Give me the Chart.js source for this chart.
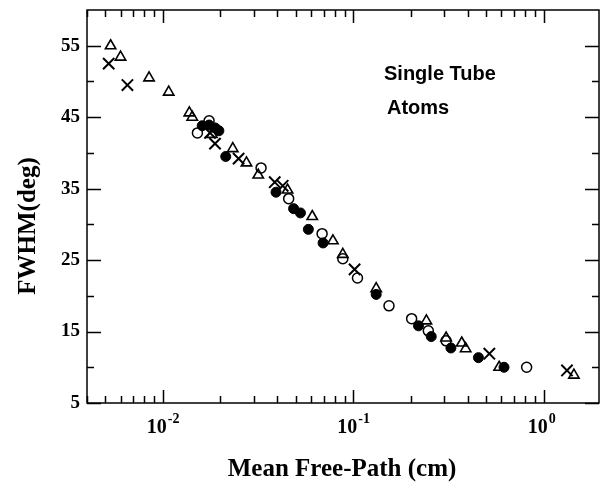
<!DOCTYPE html>
<html>
<head>
<meta charset="utf-8">
<script src="https://cdn.jsdelivr.net/npm/chart.js@4.4.1/dist/chart.umd.min.js"></script>
<style>
  html, body { margin: 0; padding: 0; background: #fff; }
  #wrap { width: 609px; height: 490px; }
</style>
</head>
<body>
<div id="wrap"><canvas id="c"></canvas></div>
<script>
// open triangles
const triMfp  = [0.00532, 0.0060, 0.00847, 0.01074, 0.01378, 0.01428, 0.0181, 0.0233, 0.0275, 0.0317, 0.0452, 0.0609, 0.0782, 0.0881, 0.1319, 0.242, 0.307, 0.371, 0.389, 0.583, 1.44];
const triFwhm = [55.0, 53.4, 50.5, 48.5, 45.6, 45.0, 42.6, 40.6, 38.6, 36.9, 34.8, 31.1, 27.7, 25.8, 21.0, 16.5, 14.1, 13.4, 12.6, 10.0, 8.9];

// crosses
const crsMfp  = [0.0052, 0.00652, 0.0177, 0.0188, 0.0250, 0.0387, 0.0426, 0.1016, 0.518, 1.324];
const crsFwhm = [52.5, 49.5, 42.8, 41.3, 39.2, 35.9, 35.4, 23.7, 11.9, 9.55];

// open circles
const ocMfp  = [0.0152, 0.0175, 0.0328, 0.0458, 0.0686, 0.0881, 0.1052, 0.154, 0.2025, 0.2477, 0.307, 0.813];
const ocFwhm = [42.8, 44.5, 37.9, 33.6, 28.7, 25.2, 22.5, 18.6, 16.8, 15.1, 13.7, 10.0];

// filled circles
const fcMfp  = [0.0161, 0.0175, 0.0188, 0.0197, 0.0214, 0.0393, 0.0486, 0.0528, 0.0581, 0.0694, 0.1319, 0.220, 0.2566, 0.3255, 0.454, 0.6185];
const fcFwhm = [43.8, 43.9, 43.5, 43.1, 39.5, 34.5, 32.2, 31.6, 29.3, 27.4, 20.2, 15.8, 14.3, 12.7, 11.35, 10.0];

// axes
const xMajor = [0.01, 0.1, 1];
const xExp = ['-2', '-1', '0'];
const xMinorMult = [2, 3, 4, 5, 6, 7, 8, 9];
const yMajor = [5, 15, 25, 35, 45, 55];
const yMinor = [10, 20, 30, 40, 50];

const pts = (xs, ys) => xs.map((v, i) => ({ x: v, y: ys[i] }));

const decor = {
  id: 'decor',
  afterDraw(chart) {
    const { ctx, chartArea: a, scales: { x, y } } = chart;
    ctx.save();
    ctx.strokeStyle = '#000';
    ctx.lineWidth = 1.5;
    ctx.strokeRect(a.left, a.top, a.right - a.left, a.bottom - a.top);

    // tick marks on all four sides, pointing inward
    ctx.beginPath();
    const xTicks = [];
    [0.001, 0.01, 0.1, 1].forEach(d => {
      xTicks.push({ v: d, major: xMajor.includes(d) });
      xMinorMult.forEach(m => xTicks.push({ v: d * m, major: false }));
    });
    xTicks.forEach(t => {
      if (t.v < x.min || t.v > x.max) return;
      const px = Math.round(x.getPixelForValue(t.v)) + 0.5;
      const len = t.major ? 13 : 7;
      ctx.moveTo(px, a.bottom); ctx.lineTo(px, a.bottom - len);
      ctx.moveTo(px, a.top); ctx.lineTo(px, a.top + len);
    });
    yMajor.concat(yMinor).forEach(v => {
      const py = Math.round(y.getPixelForValue(v)) + 0.5;
      const len = yMajor.includes(v) ? 14 : 7;
      ctx.moveTo(a.left, py); ctx.lineTo(a.left + len, py);
      ctx.moveTo(a.right, py); ctx.lineTo(a.right - len, py);
    });
    ctx.stroke();

    // x tick labels 10^n
    ctx.fillStyle = '#000';
    ctx.textBaseline = 'alphabetic';
    xMajor.forEach((v, i) => {
      const px = x.getPixelForValue(v);
      ctx.font = 'bold 20px "Liberation Serif"';
      ctx.textAlign = 'right';
      ctx.fillText('10', px + 4, 433);
      ctx.font = 'bold 14px "Liberation Serif"';
      ctx.textAlign = 'left';
      ctx.fillText(xExp[i], px + 5, 423);
    });

    // axis titles
    ctx.font = 'bold 25px "Liberation Serif"';
    ctx.textAlign = 'center';
    ctx.textBaseline = 'middle';
    ctx.fillText('Mean Free-Path (cm)', 342, 470);
    ctx.save();
    ctx.translate(29, 226);
    ctx.rotate(-Math.PI / 2);
    ctx.fillText('FWHM(deg)', 0, 0);
    ctx.restore();

    // annotation
    ctx.font = 'bold 20px "Liberation Sans"';
    ctx.textAlign = 'left';
    ctx.fillText('Single Tube', 384, 74);
    ctx.fillText('Atoms', 387, 108);
    ctx.restore();
  }
};

new Chart(document.getElementById('c'), {
  type: 'scatter',
  data: {
    datasets: [
      { label: 'tri', data: pts(triMfp, triFwhm), pointStyle: 'triangle', pointRadius: 6, borderColor: '#000', backgroundColor: 'rgba(0,0,0,0)', borderWidth: 1.6 },
      { label: 'cross', data: pts(crsMfp, crsFwhm), pointStyle: 'crossRot', pointRadius: 8, borderColor: '#000', backgroundColor: '#000', borderWidth: 2 },
      { label: 'open', data: pts(ocMfp, ocFwhm), pointStyle: 'circle', pointRadius: 5, borderColor: '#000', backgroundColor: 'rgba(0,0,0,0)', borderWidth: 1.5 },
      { label: 'filled', data: pts(fcMfp, fcFwhm), pointStyle: 'circle', pointRadius: 5, borderColor: '#000', backgroundColor: '#000', borderWidth: 1 },
    ],
  },
  options: {
    responsive: true, maintainAspectRatio: false, animation: false,
    layout: { padding: { top: 6, right: 2, left: 0, bottom: 0 } },
    plugins: { legend: { display: false }, tooltip: { enabled: false } },
    scales: {
      x: {
        type: 'logarithmic', min: 0.004, max: 1.95,
        grid: { display: false, drawTicks: false }, border: { display: false },
        ticks: { display: false },
        afterFit: (s) => { s.height = 87; s.paddingLeft = 0; s.paddingRight = 0; },
      },
      y: {
        min: 5, max: 60,
        grid: { display: false, drawTicks: false }, border: { display: false },
        afterBuildTicks: (s) => { s.ticks = yMajor.map(v => ({ value: v })); },
        ticks: { color: '#000', padding: 7, font: { family: 'Liberation Serif', size: 19, weight: 'bold' } },
        afterFit: (s) => { s.width = 87; s.paddingTop = 0; s.paddingBottom = 0; },
      },
    },
  },
  plugins: [decor],
});
</script>
</body>
</html>
